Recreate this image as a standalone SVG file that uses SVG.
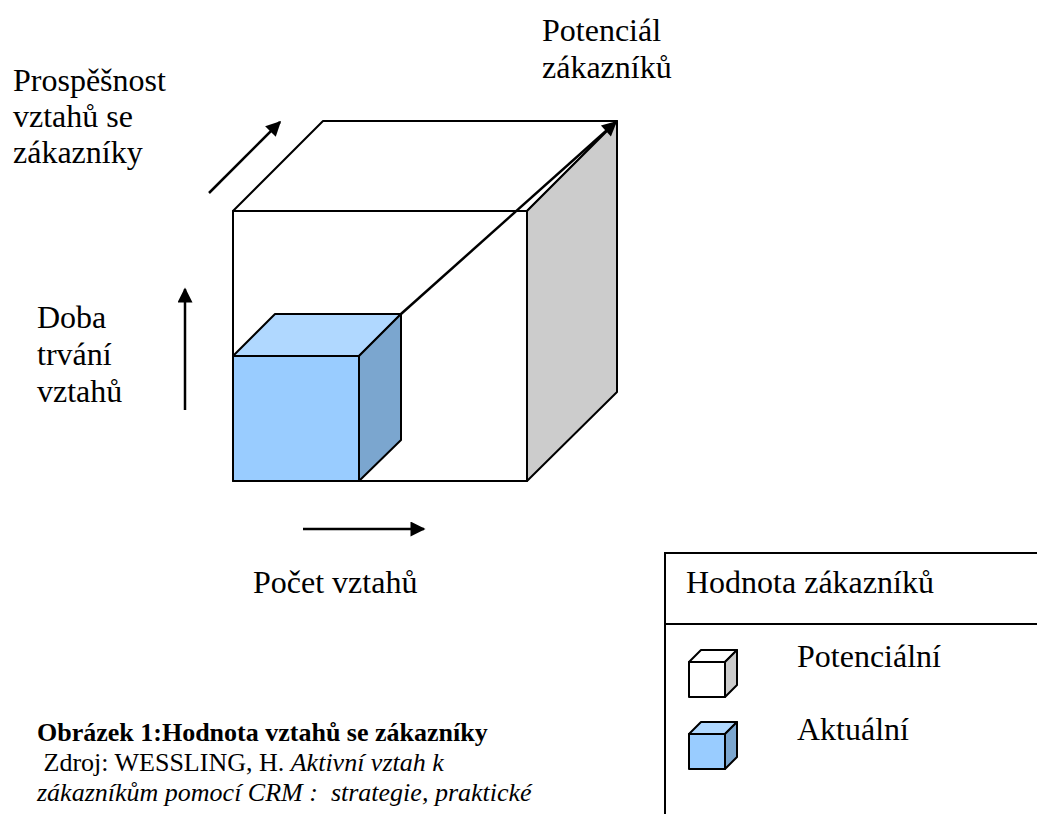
<svg xmlns="http://www.w3.org/2000/svg" width="1037" height="814" viewBox="0 0 1037 814">
<style>
  .t { font-family: "Liberation Serif", "Times New Roman", serif; font-size: 32px; fill: #000; }
  .c { font-family: "Liberation Serif", "Times New Roman", serif; font-size: 26px; fill: #000; }
  .edge { stroke: #000; stroke-width: 2; stroke-linejoin: round; }
  .arr { stroke: #000; stroke-width: 2.5; fill: none; }
</style>
<defs>
  <marker id="ah" viewBox="0 0 10 10" refX="9" refY="5" markerWidth="7" markerHeight="6" markerUnits="strokeWidth" orient="auto">
    <path d="M0,0 L10,5 L0,10 z" fill="#000"/>
  </marker>
</defs>
<rect width="1037" height="814" fill="#fff"/>

<g id="big-cube">
  <polygon class="edge" points="233,211 323,121 617,121 527,211" fill="#fff"/>
  <polygon class="edge" points="527,211 617,121 617,392 527,481" fill="#cccccc"/>
  <rect class="edge" x="233" y="211" width="294" height="270" fill="#fff"/>
</g>

<g id="small-cube">
  <polygon class="edge" points="233,356 275,314 401,314 359,356" fill="#b0d8ff"/>
  <polygon class="edge" points="359,356 401,314 401,440 359,481" fill="#7ba6cf"/>
  <rect class="edge" x="233" y="356" width="126" height="125" fill="#99ccff"/>
</g>

<g id="connectors">
  <line class="arr" x1="401" y1="314" x2="616" y2="122" marker-end="url(#ah)"/>
  <line class="arr" x1="209" y1="193" x2="280" y2="122" marker-end="url(#ah)"/>
  <line class="arr" x1="185" y1="410" x2="185" y2="289" marker-end="url(#ah)"/>
  <line class="arr" x1="303" y1="529" x2="424" y2="529" marker-end="url(#ah)"/>
</g>

<g id="label-prospesnost">
  <text class="t" x="13" y="91">Prospěšnost</text>
  <text class="t" x="13" y="127">vztahů se</text>
  <text class="t" x="13" y="163">zákazníky</text>
</g>
<g id="label-potencial">
  <text class="t" x="542" y="41">Potenciál</text>
  <text class="t" x="542" y="78">zákazníků</text>
</g>
<g id="label-doba">
  <text class="t" x="37" y="328">Doba</text>
  <text class="t" x="37" y="365">trvání</text>
  <text class="t" x="37" y="402">vztahů</text>
</g>
<g id="label-pocet">
  <text class="t" x="253" y="593">Počet vztahů</text>
</g>

<g id="legend">
  <path d="M665,814 L665,553 L1040,553 M665,624 L1040,624" stroke="#000" stroke-width="2" fill="none"/>
  <text class="t" x="686" y="593">Hodnota zákazníků</text>
  <g id="legend-potencialni">
    <polygon class="edge" stroke-width="1.5" points="689,662 701,650 737,650 725,662" fill="#fff"/>
    <polygon class="edge" stroke-width="1.5" points="725,662 737,650 737,685 725,697" fill="#cccccc"/>
    <rect class="edge" stroke-width="1.5" x="689" y="662" width="36" height="35" fill="#fff"/>
    <text class="t" x="797" y="667">Potenciální</text>
  </g>
  <g id="legend-aktualni">
    <polygon class="edge" stroke-width="1.5" points="689,734 701,722 737,722 725,734" fill="#b0d8ff"/>
    <polygon class="edge" stroke-width="1.5" points="725,734 737,722 737,757 725,769" fill="#7ba6cf"/>
    <rect class="edge" stroke-width="1.5" x="689" y="734" width="36" height="35" fill="#99ccff"/>
    <text class="t" x="797" y="740">Aktuální</text>
  </g>
</g>

<g id="caption">
  <text class="c" x="37" y="741" font-weight="bold">Obrázek 1:Hodnota vztahů se zákazníky</text>
  <text class="c" x="37" y="771" xml:space="preserve"> Zdroj: WESSLING, H. <tspan font-style="italic">Aktivní vztah k</tspan></text>
  <text class="c" x="37" y="801" font-style="italic" xml:space="preserve">zákazníkům pomocí CRM :  strategie, praktické</text>
  <text class="c" x="37" y="831" xml:space="preserve"><tspan font-style="italic">příklady a scénáře</tspan>. 2003. s.16.</text>
</g>
</svg>
